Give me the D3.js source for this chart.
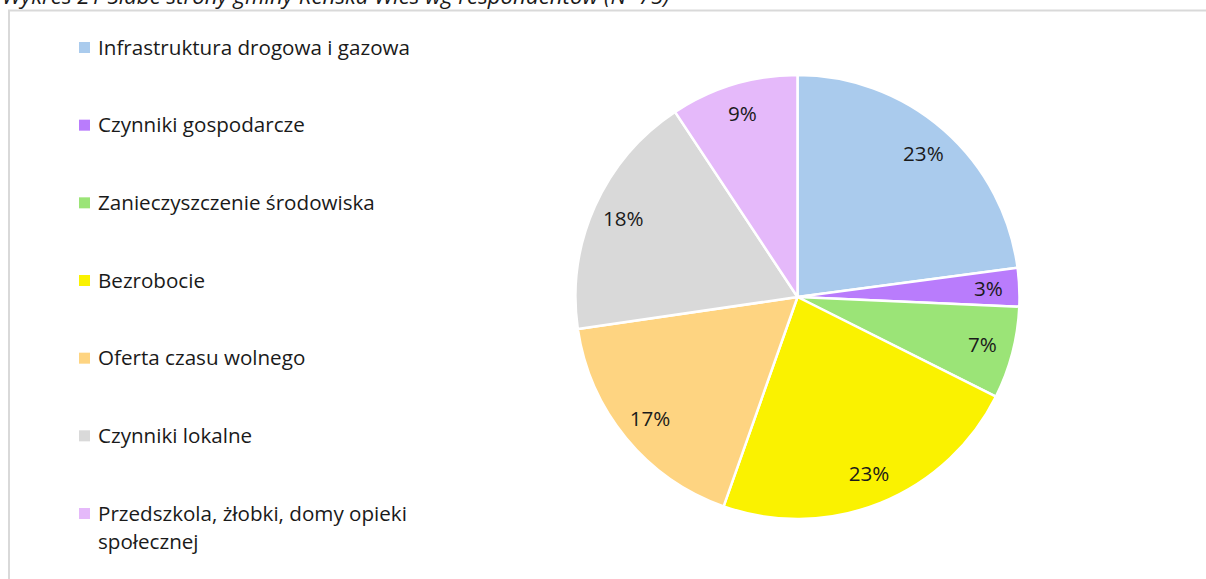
<!DOCTYPE html>
<html>
<head>
<meta charset="utf-8">
<script src="https://cdn.jsdelivr.net/npm/d3@7"></script>
<style>
  html, body { margin: 0; padding: 0; background: #fff; }
  svg { display: block; }
</style>
</head>
<body>
<svg id="chart" width="1206" height="579"></svg>
<script>
const title = "Wykres 21 Słabe strony gminy Reńska Wieś wg respondentów (N=75)";
const categories = [
  "Infrastruktura drogowa i gazowa",
  "Czynniki gospodarcze",
  "Zanieczyszczenie środowiska",
  "Bezrobocie",
  "Oferta czasu wolnego",
  "Czynniki lokalne",
  "Przedszkola, żłobki, domy opieki społecznej"
];
const values = [22.9, 2.8, 6.7, 23.0, 17.3, 18.0, 9.3];
const labels = ["23%", "3%", "7%", "23%", "17%", "18%", "9%"];
const colors = ["#aacbed", "#b97cfc", "#9be477", "#faf200", "#fed481", "#d9d9d9", "#e5b9fa"];

const svg = d3.select("#chart");
const font = "'Open Sans', Lato, sans-serif";

// frame
svg.append("rect")
  .attr("x", 9).attr("y", 10.5)
  .attr("width", 1206).attr("height", 600)
  .attr("fill", "#fff")
  .attr("stroke", "#d9d9d9").attr("stroke-width", 2);

// title (partially cut at top, as in the source)
const titleText = svg.append("text")
  .attr("x", 2).attr("y", 4)
  .attr("font-family", font)
  .attr("font-style", "italic")
  .attr("font-size", 20)
  .attr("fill", "#1a1a1a")
  .text(title);
const tw = titleText.node().getComputedTextLength();
titleText.attr("font-size", 20 * 668 / tw);

// legend
const legend = svg.append("g");
const ly = d3.scalePoint().domain(categories).range([48, 514]);
const lg = legend.selectAll("g").data(categories).join("g")
  .attr("transform", d => `translate(0,${ly(d)})`);
lg.append("rect")
  .attr("x", 79).attr("y", -6)
  .attr("width", 11).attr("height", 11)
  .attr("fill", (d, i) => colors[i]);
const lt = lg.append("text")
  .attr("x", 98).attr("y", 6.5)
  .attr("font-family", font)
  .attr("font-size", 20)
  .attr("fill", "#1a1a1a")
  .each(function(d) {
    const t = d3.select(this);
    if (d.startsWith("Przedszkola")) {
      t.append("tspan").attr("x", 98).attr("dy", 0).text("Przedszkola, żłobki, domy opieki");
      t.append("tspan").attr("x", 98).attr("dy", 28.5).text("społecznej");
    } else {
      t.text(d);
    }
  });
const lw = lt.node().getComputedTextLength();
const legendSize = 20 * 312 / lw;
lt.attr("font-size", legendSize);

// pie
const cx = 797.5, cy = 297, R = 222;
const pie = d3.pie().sort(null).value(d => d)(values);
const arc = d3.arc().innerRadius(0).outerRadius(R);
const labelArc = d3.arc().innerRadius(191).outerRadius(191);
const g = svg.append("g").attr("transform", `translate(${cx},${cy})`);
g.selectAll("path").data(pie).join("path")
  .attr("d", arc)
  .attr("fill", (d, i) => colors[i])
  .attr("stroke", "#fff")
  .attr("stroke-width", 2.5)
  .attr("stroke-linejoin", "round");
g.selectAll("text").data(pie).join("text")
  .attr("transform", d => `translate(${labelArc.centroid(d)})`)
  .attr("text-anchor", "middle")
  .attr("dy", "0.35em")
  .attr("font-family", font)
  .attr("font-size", legendSize)
  .attr("fill", "#1a1a1a")
  .text((d, i) => labels[i]);
</script>
</body>
</html>
